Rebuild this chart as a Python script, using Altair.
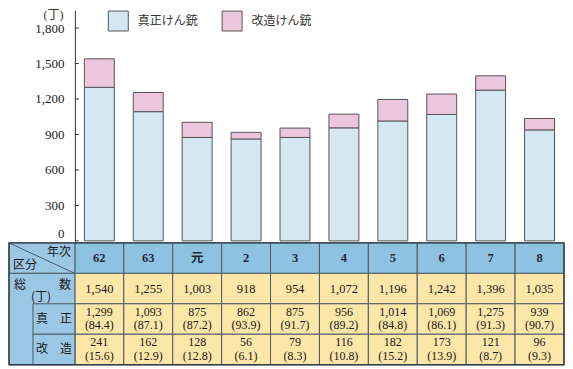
import altair as alt
import pandas as pd

# ---- data ----
years = ["62", "63", "元", "2", "3", "4", "5", "6", "7", "8"]
total = [1540, 1255, 1003, 918, 954, 1072, 1196, 1242, 1396, 1035]
genuine = [1299, 1093, 875, 862, 875, 956, 1014, 1069, 1275, 939]
genuine_pct = [84.4, 87.1, 87.2, 93.9, 91.7, 89.2, 84.8, 86.1, 91.3, 90.7]
modified = [241, 162, 128, 56, 79, 116, 182, 173, 121, 96]
modified_pct = [15.6, 12.9, 12.8, 6.1, 8.3, 10.8, 15.2, 13.9, 8.7, 9.3]
y_ticks = [0, 300, 600, 900, 1200, 1500, 1800]
series = ["真正けん銃", "改造けん銃"]
unit = "(丁)"

# ---- styles ----
BLUE_BAR = "#d5e7f3"
PINK_BAR = "#ebc6dc"
HEAD = "#8fc1e0"
LABEL = "#9cc7e4"
YELLOW = "#fce7a8"
LINE = "#4a5a66"
SERIF = "Liberation Serif, Noto Sans CJK JP"
JP = "Noto Sans CJK JP"

# ---- layout ----
n = len(years)
W = 556
LABEL_PX = 66
COL_PX = (W - LABEL_PX) / n
LW = LABEL_PX / COL_PX
INNER = 42 / COL_PX

xs = alt.Scale(domain=[-LW, n], nice=False, zero=False, padding=0)
ys = alt.Scale(domain=[0, 1950], nice=False, zero=True, padding=0)
ty = alt.Scale(domain=[0, 4], reverse=True, nice=False, zero=False, padding=0)

pos = [i + 0.5 for i in range(n)]

y_axis = alt.Axis(
    values=y_ticks, format=",.0f", offset=-LABEL_PX, grid=False, ticks=False, tickSize=0,
    labelPadding=11, labelFont="Liberation Serif", labelFontSize=13, labelColor="#222",
    labelFlush=True, domainColor="#333", domainWidth=1,
    title=unit, titleAngle=0, titleX=-22, titleY=-1, titleBaseline="top", titleAlign="center",
    titleFont=SERIF, titleFontSize=12, titleFontWeight="normal", titleColor="#333")

# ---- bar chart ----
bar_df = pd.DataFrame({
    "pos": pos * 2,
    "series": [series[0]] * n + [series[1]] * n,
    "value": genuine + modified,
    "rank": [0] * n + [1] * n,
})

bars = alt.Chart(bar_df).mark_bar(size=30, stroke="#555", strokeWidth=1).encode(
    x=alt.X("pos:Q", scale=xs, axis=None),
    y=alt.Y("value:Q", stack="zero", scale=ys, axis=y_axis),
    color=alt.Color("series:N", scale=alt.Scale(domain=series, range=[BLUE_BAR, PINK_BAR]),
                    legend=alt.Legend(title=None, orient="none", legendX=99, legendY=0,
                                      direction="horizontal", symbolType="square", symbolSize=400,
                                      symbolStrokeColor="#555", symbolStrokeWidth=1, symbolOpacity=1,
                                      labelFont=JP, labelFontSize=12, labelColor="#333",
                                      labelOffset=9, columnPadding=21, padding=0)),
    order=alt.Order("rank:Q"),
)

tick_df = pd.DataFrame({"value": y_ticks})
ticks = alt.Chart(tick_df).mark_rule(color="#333", strokeWidth=1).encode(
    y=alt.Y("value:Q", scale=ys, axis=y_axis),
    x=alt.value(LABEL_PX), x2=alt.value(LABEL_PX + 4),
)

top = alt.layer(bars, ticks).properties(width=W, height=231)

# ---- table ----
def rects(df, fill, stroke=LINE, sw=1.0, opacity=1.0):
    return alt.Chart(df).mark_rect(fill=fill, fillOpacity=opacity, stroke=stroke, strokeWidth=sw).encode(
        x=alt.X("x:Q", scale=xs, axis=None), x2="x2:Q",
        y=alt.Y("y:Q", scale=ty, axis=None), y2="y2:Q",
    )

head_cells = pd.DataFrame({"x": list(range(n)), "x2": [i + 1 for i in range(n)], "y": [0] * n, "y2": [1] * n})
body_cells = pd.DataFrame({
    "x": list(range(n)) * 3,
    "x2": [i + 1 for i in range(n)] * 3,
    "y": [1] * n + [2] * n + [3] * n,
    "y2": [2] * n + [3] * n + [4] * n,
})
label_cells = pd.DataFrame({"x": [-LW, -LW], "x2": [0, 0], "y": [0, 1], "y2": [1, 4]})
sub_cells = pd.DataFrame({"x": [-INNER, -INNER], "x2": [0, 0], "y": [2, 3], "y2": [3, 4]})
outer = pd.DataFrame({"x": [-LW], "x2": [n], "y": [0], "y2": [4]})
diag_df = pd.DataFrame({"x": [-LW], "x2": [0], "y": [0], "y2": [1]})

diag = alt.Chart(diag_df).mark_rule(color=LINE, strokeWidth=1).encode(
    x=alt.X("x:Q", scale=xs, axis=None), x2="x2:Q",
    y=alt.Y("y:Q", scale=ty, axis=None), y2="y2:Q",
)

def texts(df, **kw):
    return alt.Chart(df).mark_text(**kw).encode(
        x=alt.X("pos:Q", scale=xs, axis=None),
        y=alt.Y("y:Q", scale=ty, axis=None),
        text="label:N",
    )

head_txt = pd.DataFrame({"pos": pos, "y": [0.5] * n, "label": years})
total_txt = pd.DataFrame({"pos": pos, "y": [1.5] * n, "label": [f"{v:,}" for v in total]})
gen_num = pd.DataFrame({"pos": pos, "y": [2.5] * n, "label": [f"{v:,}" for v in genuine]})
gen_pct = pd.DataFrame({"pos": pos, "y": [2.5] * n, "label": [f"({p:.1f})" for p in genuine_pct]})
mod_num = pd.DataFrame({"pos": pos, "y": [3.5] * n, "label": [f"{v:,}" for v in modified]})
mod_pct = pd.DataFrame({"pos": pos, "y": [3.5] * n, "label": [f"({p:.1f})" for p in modified_pct]})

num_style = dict(font=SERIF, fontSize=12.5, color="#1a1a1a", baseline="middle", align="center")
sub_style = dict(font=SERIF, fontSize=12, color="#1a1a1a", baseline="middle", align="center")

def one_label(text, xv, yv, align, dx, dy, size=12):
    df = pd.DataFrame({"pos": [xv], "y": [yv], "label": [text]})
    return texts(df, font=JP, fontSize=size, color="#1a1a1a", align=align, baseline="middle", dx=dx, dy=dy)

table = alt.layer(
    rects(head_cells, HEAD),
    rects(body_cells, YELLOW),
    rects(label_cells, LABEL),
    rects(sub_cells, LABEL),
    diag,
    rects(outer, "#ffffff", stroke="#2f3b44", sw=1.4, opacity=0),
    texts(head_txt, font=SERIF, fontSize=12.5, fontWeight="bold", color="#1d2a3a", align="center", baseline="middle"),
    texts(total_txt, **num_style),
    texts(gen_num, dy=-7, **sub_style),
    texts(gen_pct, dy=6.5, **sub_style),
    texts(mod_num, dy=-7, **sub_style),
    texts(mod_pct, dy=6.5, **sub_style),
    one_label("年次", 0, 0, "right", -4, 9),
    one_label("区分", -LW, 1, "left", 4, -8),
    one_label("総", -LW, 1, "left", 5, 12),
    one_label("数", 0, 1, "right", -4, 12),
    one_label("(丁)", -INNER, 1, "center", 8, 24),
    one_label("真　正", (-INNER) / 2, 2.5, "center", 0, 0),
    one_label("改　造", (-INNER) / 2, 3.5, "center", 0, 0),
).properties(width=W, height=122)

chart = alt.vconcat(top, table, spacing=0).properties(padding=0).configure_view(strokeWidth=0)

chart.save("out.html", embed_options={"renderer": "svg", "actions": False})
